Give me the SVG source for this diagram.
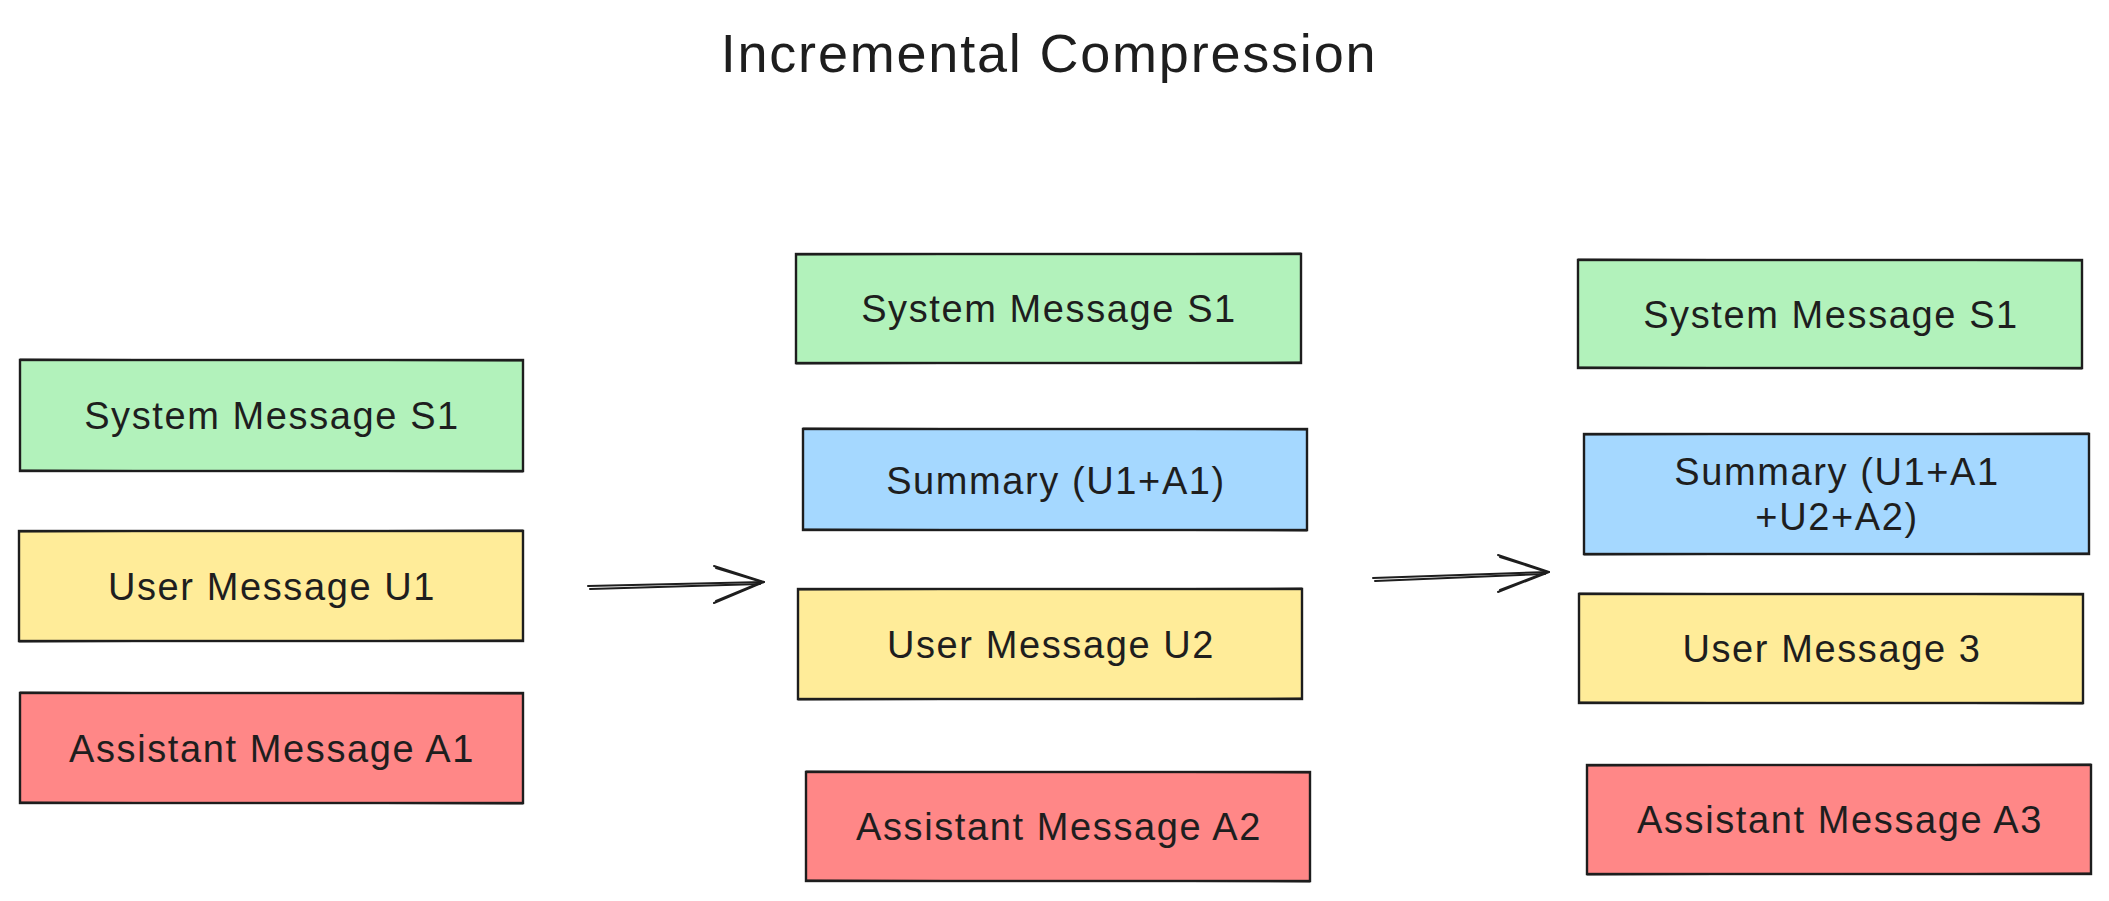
<svg xmlns="http://www.w3.org/2000/svg" width="2109" height="901" viewBox="0 0 2109 901">
<style>
.bx{stroke:#1e1e1e;stroke-width:2.4;}
.sk{fill:none;stroke:#1e1e1e;stroke-width:1.1;}
.g{fill:#b2f2bb;}.b{fill:#a5d8ff;}.y{fill:#ffec99;}.r{fill:#ff8787;}
.lbl{font-family:"Liberation Sans",Arial,sans-serif;font-size:38px;letter-spacing:1.6px;fill:#1e1e1e;text-anchor:middle;}
.ttl{font-family:"Liberation Sans",Arial,sans-serif;font-size:54px;letter-spacing:1.8px;fill:#1e1e1e;text-anchor:middle;}
.ar{fill:none;stroke:#1e1e1e;stroke-width:2;stroke-linecap:round;stroke-linejoin:round;}
</style>
<rect width="2109" height="901" fill="#ffffff"/>
<g id="title"><text class="ttl" x="1049" y="72">Incremental Compression</text></g>

<g id="left-system-s1"><rect class="bx g" x="20" y="360" width="503" height="111"/><rect class="sk" x="20" y="360" width="503" height="111" transform="rotate(0.2 271 415)"/><text class="lbl" x="272" y="429">System Message S1</text></g>
<g id="left-user-u1"><rect class="bx y" x="19" y="531" width="504" height="110"/><rect class="sk" x="19" y="531" width="504" height="110" transform="rotate(-0.2 271 586)"/><text class="lbl" x="272" y="600">User Message U1</text></g>
<g id="left-assistant-a1"><rect class="bx r" x="20" y="693" width="503" height="110"/><rect class="sk" x="20" y="693" width="503" height="110" transform="rotate(0.2 271 748)"/><text class="lbl" x="272" y="762">Assistant Message A1</text></g>

<g id="mid-system-s1"><rect class="bx g" x="796" y="254" width="505" height="109"/><rect class="sk" x="796" y="254" width="505" height="109" transform="rotate(-0.2 1048 308)"/><text class="lbl" x="1049" y="322">System Message S1</text></g>
<g id="mid-summary"><rect class="bx b" x="803" y="429" width="504" height="101"/><rect class="sk" x="803" y="429" width="504" height="101" transform="rotate(0.2 1055 480)"/><text class="lbl" x="1056" y="494">Summary (U1+A1)</text></g>
<g id="mid-user-u2"><rect class="bx y" x="798" y="589" width="504" height="110"/><rect class="sk" x="798" y="589" width="504" height="110" transform="rotate(-0.2 1050 644)"/><text class="lbl" x="1051" y="658">User Message U2</text></g>
<g id="mid-assistant-a2"><rect class="bx r" x="806" y="772" width="504" height="109"/><rect class="sk" x="806" y="772" width="504" height="109" transform="rotate(0.2 1058 826)"/><text class="lbl" x="1059" y="840">Assistant Message A2</text></g>

<g id="right-system-s1"><rect class="bx g" x="1578" y="260" width="504" height="108"/><rect class="sk" x="1578" y="260" width="504" height="108" transform="rotate(0.2 1830 314)"/><text class="lbl" x="1831" y="328">System Message S1</text></g>
<g id="right-summary"><rect class="bx b" x="1584" y="434" width="505" height="120"/><rect class="sk" x="1584" y="434" width="505" height="120" transform="rotate(-0.2 1836 494)"/><text class="lbl" x="1837" y="485">Summary (U1+A1</text><text class="lbl" x="1837" y="530">+U2+A2)</text></g>
<g id="right-user-3"><rect class="bx y" x="1579" y="594" width="504" height="109"/><rect class="sk" x="1579" y="594" width="504" height="109" transform="rotate(0.2 1831 648)"/><text class="lbl" x="1832" y="662">User Message 3</text></g>
<g id="right-assistant-a3"><rect class="bx r" x="1587" y="765" width="504" height="109"/><rect class="sk" x="1587" y="765" width="504" height="109" transform="rotate(-0.2 1839 819)"/><text class="lbl" x="1840" y="833">Assistant Message A3</text></g>

<g id="connectors">
<path class="ar" d="M588 586 L764 582"/><path class="ar" d="M590 589 L760 584" stroke-width="1"/>
<path class="ar" d="M714 566 L764 582 L714 603"/><path class="ar" d="M716 568 L762 582 L716 601" stroke-width="1"/>
<path class="ar" d="M1373 578 L1549 572"/><path class="ar" d="M1375 581 L1545 574" stroke-width="1"/>
<path class="ar" d="M1498 555 L1549 572 L1498 592"/><path class="ar" d="M1500 557 L1547 572 L1500 590" stroke-width="1"/>
</g>
</svg>
